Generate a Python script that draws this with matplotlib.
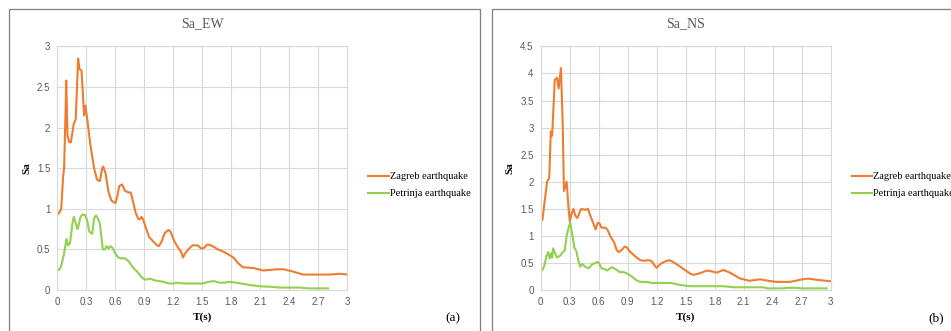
import numpy as np
import matplotlib
matplotlib.use('Agg')
import matplotlib.pyplot as plt
from matplotlib.patches import Rectangle

# --- Sa_EW ---
ew_zag_t = [0, 0.02, 0.04, 0.06, 0.07, 0.085, 0.092, 0.105, 0.123, 0.14, 0.17, 0.19, 0.215,
            0.23, 0.25, 0.265, 0.276, 0.29, 0.31, 0.34, 0.38, 0.41, 0.44, 0.464, 0.475, 0.5,
            0.53, 0.56, 0.6, 0.62, 0.64, 0.67, 0.70, 0.74, 0.76, 0.78, 0.81, 0.84, 0.86, 0.87,
            0.89, 0.92, 0.95, 0.99, 1.03, 1.05, 1.08, 1.11, 1.15, 1.17, 1.21, 1.25, 1.28, 1.30,
            1.32, 1.37, 1.40, 1.45, 1.49, 1.52, 1.55, 1.59, 1.62, 1.66, 1.72, 1.78, 1.82, 1.87,
            1.92, 2.03, 2.13, 2.27, 2.34, 2.44, 2.54, 2.68, 2.82, 2.92, 3.0]
ew_zag_sa = [0.93, 0.95, 1.0, 1.4, 1.5, 2.2, 2.58, 1.9, 1.82, 1.82, 2.05, 2.1, 2.85,
             2.72, 2.70, 2.4, 2.15, 2.27, 2.1, 1.8, 1.5, 1.36, 1.34, 1.5, 1.52, 1.43,
             1.2, 1.1, 1.07, 1.15, 1.28, 1.3, 1.22, 1.2, 1.2, 1.1, 0.95, 0.87, 0.88, 0.9,
             0.86, 0.75, 0.65, 0.6, 0.55, 0.54, 0.6, 0.7, 0.74, 0.72, 0.6, 0.52, 0.47, 0.40,
             0.45, 0.52, 0.55, 0.55, 0.51, 0.52, 0.56, 0.55, 0.53, 0.5, 0.47, 0.43, 0.40, 0.33,
             0.28, 0.27, 0.24, 0.255, 0.255, 0.226, 0.19, 0.19, 0.19, 0.2, 0.19]

ew_pet_t = [0, 0.02, 0.04, 0.07, 0.095, 0.11, 0.13, 0.16, 0.17, 0.2, 0.21, 0.24, 0.26, 0.29,
            0.31, 0.33, 0.36, 0.38, 0.40, 0.42, 0.44, 0.47, 0.49, 0.51, 0.53, 0.55, 0.57, 0.6,
            0.63, 0.66, 0.7, 0.74, 0.78, 0.83, 0.87, 0.9, 0.93, 0.96, 1.0, 1.05, 1.1, 1.15,
            1.2, 1.25, 1.3, 1.5, 1.56, 1.62, 1.68, 1.73, 1.78, 1.85, 1.95, 2.0, 2.1, 2.2,
            2.3, 2.5, 2.6, 2.8]
ew_pet_sa = [0.25, 0.25, 0.3, 0.45, 0.63, 0.55, 0.57, 0.85, 0.9, 0.78, 0.75, 0.9, 0.93, 0.92,
             0.85, 0.72, 0.69, 0.88, 0.92, 0.88, 0.82, 0.5, 0.5, 0.54, 0.51, 0.54, 0.52, 0.45,
             0.40, 0.39, 0.39, 0.35, 0.28, 0.22, 0.16, 0.13, 0.13, 0.14, 0.12, 0.11, 0.1, 0.08,
             0.08, 0.09, 0.08, 0.08, 0.1, 0.11, 0.09, 0.09, 0.1, 0.09, 0.07, 0.06, 0.045, 0.04,
             0.03, 0.03, 0.02, 0.02]

# --- Sa_NS ---
ns_zag_t = [0, 0.02, 0.04, 0.068, 0.09, 0.106, 0.12, 0.147, 0.17, 0.187, 0.211, 0.23, 0.242,
            0.27, 0.29, 0.303, 0.32, 0.34, 0.36, 0.38, 0.42, 0.46, 0.49, 0.5, 0.53, 0.57,
            0.59, 0.61, 0.63, 0.67, 0.69, 0.72, 0.76, 0.79, 0.81, 0.84, 0.87, 0.89, 0.93,
            0.98, 1.03, 1.07, 1.12, 1.15, 1.18, 1.2, 1.24, 1.29, 1.33, 1.36, 1.43, 1.5, 1.55,
            1.58, 1.63, 1.68, 1.72, 1.78, 1.82, 1.89, 1.96, 2.06, 2.16, 2.27, 2.37, 2.44,
            2.58, 2.71, 2.77, 2.85, 3.0]
ns_zag_sa = [1.25, 1.3, 1.6, 2.0, 2.07, 2.93, 2.85, 3.88, 3.92, 3.72, 4.1, 3.0, 1.83,
             2.0, 1.5, 1.27, 1.4, 1.5, 1.37, 1.33, 1.5, 1.48, 1.5, 1.45, 1.3, 1.12,
             1.24, 1.23, 1.15, 1.15, 1.12, 1.0, 0.88, 0.73, 0.7, 0.74, 0.8, 0.79, 0.7,
             0.62, 0.55, 0.54, 0.55, 0.53, 0.45, 0.41, 0.48, 0.53, 0.55, 0.53, 0.45, 0.36, 0.3,
             0.28, 0.3, 0.33, 0.36, 0.34, 0.32, 0.37, 0.32, 0.215, 0.17, 0.197, 0.166, 0.15,
             0.15, 0.197, 0.21, 0.19, 0.16]

ns_pet_t = [0, 0.02, 0.04, 0.06, 0.08, 0.095, 0.11, 0.12, 0.13, 0.15, 0.17, 0.2, 0.23, 0.25,
            0.27, 0.29, 0.307, 0.33, 0.35, 0.37, 0.39, 0.41, 0.43, 0.47, 0.5, 0.53, 0.57,
            0.59, 0.61, 0.63, 0.67, 0.69, 0.72, 0.74, 0.78, 0.82, 0.86, 0.9, 0.95, 0.99,
            1.03, 1.1, 1.15, 1.35, 1.42, 1.5, 1.55, 1.88, 1.95, 2.0, 2.3, 2.35, 2.5, 2.55,
            2.65, 2.7, 2.96]
ns_pet_sa = [0.36, 0.37, 0.45, 0.62, 0.7, 0.58, 0.68, 0.6, 0.77, 0.68, 0.6, 0.63, 0.7, 0.73,
             1.0, 1.15, 1.25, 1.0, 0.78, 0.72, 0.55, 0.43, 0.48, 0.42, 0.4, 0.47, 0.5,
             0.52, 0.48, 0.4, 0.38, 0.36, 0.4, 0.42, 0.38, 0.33, 0.33, 0.3, 0.24, 0.18,
             0.15, 0.15, 0.13, 0.13, 0.1, 0.08, 0.07, 0.07, 0.06, 0.05, 0.05, 0.03, 0.03, 0.04,
             0.04, 0.03, 0.03]

orange = '#ED7D31'
green = '#92D050'
tick_col = '#595959'
grid_col = '#D9D9D9'

fig = plt.figure(figsize=(9.51, 3.31), dpi=100)

# panel frames
for x0, w in [(9, 471), (492, 470)]:
    fig.patches.append(Rectangle((x0 / 951, -0.1), w / 951, 1.1 - 9 / 331,
                                 transform=fig.transFigure, fill=False,
                                 edgecolor='#7F7F7F', linewidth=0.9))

panels = [
    (0.0603, 'Sa_EW', 3, 0.5, ew_zag_t, ew_zag_sa, ew_pet_t, ew_pet_sa, '(a)', 453),
    (0.5684, 'Sa_NS', 4.5, 0.5, ns_zag_t, ns_zag_sa, ns_pet_t, ns_pet_sa, '(b)', 936),
]

for left, title, ymax, ystep, zt, zs, pt, ps, tag, tagx in panels:
    ax = fig.add_axes([left, 0.1239, 0.305, 0.736])
    ax.plot(zt, zs, color=orange, lw=1.5, label='Zagreb earthquake')
    ax.plot(pt, ps, color=green, lw=1.5, label='Petrinja earthquake')
    ax.set_xlim(0, 3)
    ax.set_ylim(0, ymax)
    ax.set_xticks(np.arange(0, 3.01, 0.3))
    ax.set_xticklabels(['0', '0.3', '0.6', '0.9', '1.2', '1.5', '1.8', '2.1', '2.4', '2.7', '3'])
    yt = np.arange(0, ymax + 0.01, ystep)
    ax.set_yticks(yt)
    ax.set_yticklabels(['%g' % v for v in yt])
    ax.grid(True, color=grid_col, linewidth=0.8)
    ax.set_axisbelow(True)
    for s in ax.spines.values():
        s.set_color(grid_col)
        s.set_linewidth(0.8)
    ax.tick_params(length=0, colors=tick_col, labelsize=7, pad=5)
    for lab in ax.get_xticklabels() + ax.get_yticklabels():
        lab.set_family('Liberation Sans')
    ax.set_title(title, fontsize=10, color='#595959', family='Liberation Serif', pad=14)
    ax.set_xlabel('T(s)', fontsize=8, fontweight='bold', family='Liberation Serif', labelpad=4)
    ax.set_ylabel('Sa', fontsize=8, fontweight='bold', family='Liberation Serif', labelpad=4)
    ax.legend(loc='center left', bbox_to_anchor=(1.04, 0.43), frameon=False,
              prop={'family': 'Liberation Serif', 'size': 7.5},
              handlelength=2.0, handletextpad=0.1, labelspacing=0.75)
    fig.text(tagx / 951, 1 - 318 / 331, tag, ha='center', va='center',
             fontsize=9.5, family='Liberation Serif')

fig.savefig('out.png', dpi=100)
